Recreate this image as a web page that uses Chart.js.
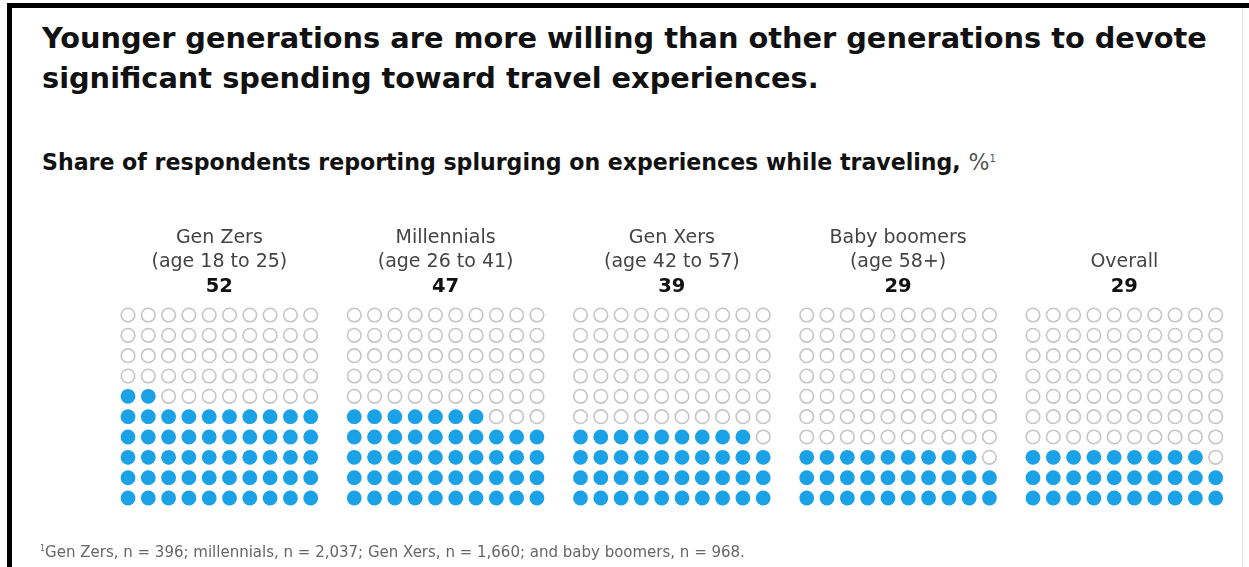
<!DOCTYPE html>
<html>
<head>
<meta charset="utf-8">
<script src="https://cdn.jsdelivr.net/npm/chart.js@4.4.1/dist/chart.umd.min.js"></script>
<style>
  html, body { margin: 0; padding: 0; background: #fff; }
  body { width: 1249px; height: 567px; position: relative; overflow: hidden; font-family: "DejaVu Sans", "Liberation Sans", sans-serif; }
  .frame { position: absolute; left: 7px; top: 3px; right: 0; height: 600px; border-top: 5px solid #000; border-left: 5px solid #000; }
  .edge { position: absolute; left: 1242px; top: 8px; width: 1px; height: 560px; background: #e6e6e6; }
  h1 { position: absolute; left: 42px; top: 18px; margin: 0; font-size: 28.8px; line-height: 40px; font-weight: bold; color: #111; white-space: nowrap; }
  h2 { position: absolute; left: 42px; top: 149px; margin: 0; font-size: 22.1px; font-weight: bold; color: #111; white-space: nowrap; }
  h2 span { font-weight: normal; color: #555; }
  h2 sup { font-size: 10px; font-weight: normal; color: #555; }
  .note { position: absolute; left: 40px; top: 543px; font-size: 15px; color: #666; white-space: nowrap; }
  .note sup { font-size: 8px; }
  #chart { position: absolute; left: 0; top: 0; }
</style>
</head>
<body>
<div class="frame"></div>
<div class="edge"></div>
<h1>Younger generations are more willing than other generations to devote<br>significant spending toward travel experiences.</h1>
<h2>Share of respondents reporting splurging on experiences while traveling, <span>%</span><sup>1</sup></h2>
<canvas id="chart" width="1249" height="567"></canvas>
<div class="note"><sup>1</sup>Gen Zers, n = 396; millennials, n = 2,037; Gen Xers, n = 1,660; and baby boomers, n = 968.</div>
<script>
const groups = ['Gen Zers', 'Millennials', 'Gen Xers', 'Baby boomers', 'Overall'];
const ageBands = ['(age 18 to 25)', '(age 26 to 41)', '(age 42 to 57)', '(age 58+)', ''];
const shares = [52, 47, 39, 29, 29];

const COLS = 10;
const PANEL_STEP = 11.145; // distance between panels, in dot units

// 10x10 grid per group, filled from the bottom row, left to right
const filled = [];
const empty = [];
shares.forEach(function (v, p) {
    for (let i = 0; i < 100; i++) {
        const pt = { x: p * PANEL_STEP + (i % COLS), y: Math.floor(i / COLS) };
        if (i < v) filled.push(pt); else empty.push(pt);
    }
});

// group name, age band and share above every grid
const headers = {
    id: 'headers',
    afterDraw(chart) {
        const c = chart.ctx;
        const xs = chart.scales.x;
        c.save();
        c.textAlign = 'center';
        c.textBaseline = 'alphabetic';
        groups.forEach(function (g, p) {
            const cx = xs.getPixelForValue(p * PANEL_STEP + 4.5);
            c.fillStyle = '#444';
            c.font = '19px "DejaVu Sans", sans-serif';
            if (ageBands[p]) {
                c.fillText(g, cx, 243);
                c.fillText(ageBands[p], cx, 267);
            } else {
                c.fillText(g, cx, 267);
            }
            c.fillStyle = '#111';
            c.font = 'bold 19.5px "DejaVu Sans", sans-serif';
            c.fillText(String(shares[p]), cx, 292);
        });
        c.restore();
    }
};

const ctx = document.getElementById('chart').getContext('2d');
new Chart(ctx, {
    type: 'scatter',
    data: {
        datasets: [{
            label: 'Splurging',
            data: filled,
            pointRadius: 7.4,
            pointBorderWidth: 0,
            backgroundColor: '#1aa1e6',
            borderColor: '#1aa1e6'
        }, {
            label: 'Not splurging',
            data: empty,
            pointRadius: 6.8,
            pointBorderWidth: 1.6,
            backgroundColor: '#fff',
            borderColor: '#c6c6c6'
        }]
    },
    options: {
        responsive: false,
        animation: false,
        layout: { padding: { left: 117.85, right: 23.15, top: 304.85, bottom: 58.85 } },
        scales: {
            x: { type: 'linear', min: -0.5, max: 4 * PANEL_STEP + 9.5, display: false },
            y: { type: 'linear', min: -0.5, max: 9.5, display: false }
        },
        plugins: {
            legend: { display: false },
            tooltip: { enabled: false }
        }
    },
    plugins: [headers]
});
</script>
</body>
</html>
